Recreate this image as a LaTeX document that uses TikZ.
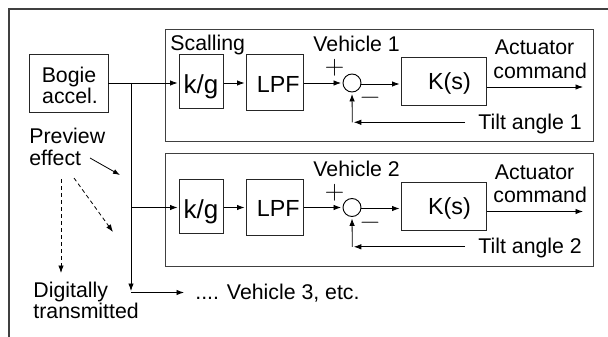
\documentclass[tikz,border=0pt]{standalone}
\usepackage{fontspec}
\setmainfont{Liberation Sans}
\newfontfamily\lmrfont{Latin Modern Roman}
\usetikzlibrary{arrows.meta}
\begin{document}
\begin{tikzpicture}[x=1pt,y=-1pt,
  line width=0.8pt,
  blk/.style={draw=black!85, line width=0.9pt, inner sep=0, anchor=north west},
  grp/.style={draw=black!75, line width=1pt, inner sep=0, anchor=north west},
  lbl/.style={font=\fontsize{21.3}{22}\selectfont, inner sep=0, anchor=base west},
  lblc/.style={font=\fontsize{21.3}{22}\selectfont, inner sep=0, anchor=base},
  big/.style={font=\fontsize{23.3}{24}\selectfont},
  sgn/.style={font=\lmrfont\fontsize{27}{27}\selectfont, inner sep=0, text height=12pt, text depth=0pt},
  arr/.style={-{Latex[length=7.5pt,width=5.5pt]}, shorten >=1.5pt},
  darr/.style={-{Latex[length=7.5pt,width=5.5pt]}, dash pattern=on 4pt off 3pt},
  sumj/.style={circle, draw=black, line width=0.9pt, minimum size=18pt, inner sep=0}]
\useasboundingbox (0,0) rectangle (608,337);
% outer partial frame
\coordinate (fa) at (9,337);
\coordinate (fb) at (9,9);
\coordinate (fc) at (608,9);
\draw[black!75, line width=1.1pt] (fa) -- (fb) -- (fc);

% vehicle groups
\node[grp, minimum width=428pt, minimum height=112pt] (v1) at (165,29) {};
\node[grp, minimum width=428pt, minimum height=113pt] (v2) at (165,153) {};

% bogie
\node[blk, minimum width=78.5pt, minimum height=57.7pt] (bogie) at (29,54) {};
\node[lblc] (bogieT1) at (69,82) {Bogie};
\node[lblc] (bogieT2) at (70,103) {accel.};

\foreach \i/\dy in {1/0, 2/124.5}{
  \begin{scope}[yshift=-\dy pt]
  \node[blk, minimum width=44pt, minimum height=54pt] (kg\i) at (179,54) {};
  \node[lblc, font=\fontsize{26}{26}\selectfont] (kgT\i) at (201,94) {k/g};
  \node[blk, minimum width=57pt, minimum height=56pt] (lpf\i) at (246,54) {};
  \node[lblc, big] (lpfT\i) at (278.3,92.3) {LPF};
  \node[sumj] (sum\i) at (352,83) {};
  \node[blk, minimum width=85pt, minimum height=48pt] (K\i) at (401,57) {};
  \node[lblc, big] (KT\i) at (449.5,89.5) {K(s)};
  \node[lbl] (veh\i) at (313,52) {Vehicle \i};
  \node[lbl] (actA\i) at (494.5,55) {Actuator};
  \node[lbl] (actB\i) at (493,78) {command};
  \node[lbl] (tilt\i) at (478,129) {Tilt angle \i};
  \node[sgn] (plus\i) at (334.5,68.7) {+};
  \node[sgn] (minus\i) at (370,98.5) {\char"2212};
  \coordinate (sig\i) at (131,83);
  \coordinate (out\i) at (583,87);
  \coordinate (fbk\i) at (465,122.3);
  \coordinate (fbc\i) at (352.3,122.3);
  \draw[arr] (sig\i) -- (kg\i.west |- sig\i);
  \draw[arr] (kg\i.east |- sig\i) -- (lpf\i.west |- sig\i);
  \draw[arr] (lpf\i.east |- sum\i.west) -- (sum\i.west);
  \draw[arr] (sum\i.east |- 0,84) -- (K\i.west |- 0,84);
  \draw[-{Latex[length=7.5pt,width=5.5pt]}] (K\i.east |- out\i) -- (out\i);
  \draw[arr] (fbk\i) -- (fbc\i);
  \draw[arr] (fbc\i) -- (sum\i.south);
  \end{scope}
}
\node[lbl] (scal) at (170,51) {Scalling};

% distribution from bogie
\draw (bogie.east |- sig1) -- (sig1);
\coordinate (jbot) at (131,291);
\coordinate (hstart) at (131,292.5);
\coordinate (hend) at (184,292.5);
\draw[-{Latex[length=7.5pt,width=5.5pt]}] (sig1) -- (jbot);
\draw[-{Latex[length=7.5pt,width=5.5pt]}] (hstart) -- (hend);
\node[lbl] (v3) at (195,299) {.... Vehicle 3, etc.};

% preview effect
\node[lbl] (prevA) at (29,143) {Preview};
\node[lbl] (prevB) at (29,165) {effect};
\coordinate (pe1) at (90,158);
\coordinate (pe2) at (120,175);
\draw[-{Latex[length=7pt,width=5pt]}] (pe1) -- (pe2);
\coordinate (pd1) at (74,178);
\coordinate (pd2) at (113,232);
\draw[darr] (pd1) -- (pd2);
\coordinate (pv1) at (61,179);
\coordinate (pv2) at (61,273);
\draw[darr] (pv1) -- (pv2);
\node[lbl] (digA) at (33,297) {Digitally};
\node[lbl] (digB) at (33,318) {transmitted};
\end{tikzpicture}
\end{document}
